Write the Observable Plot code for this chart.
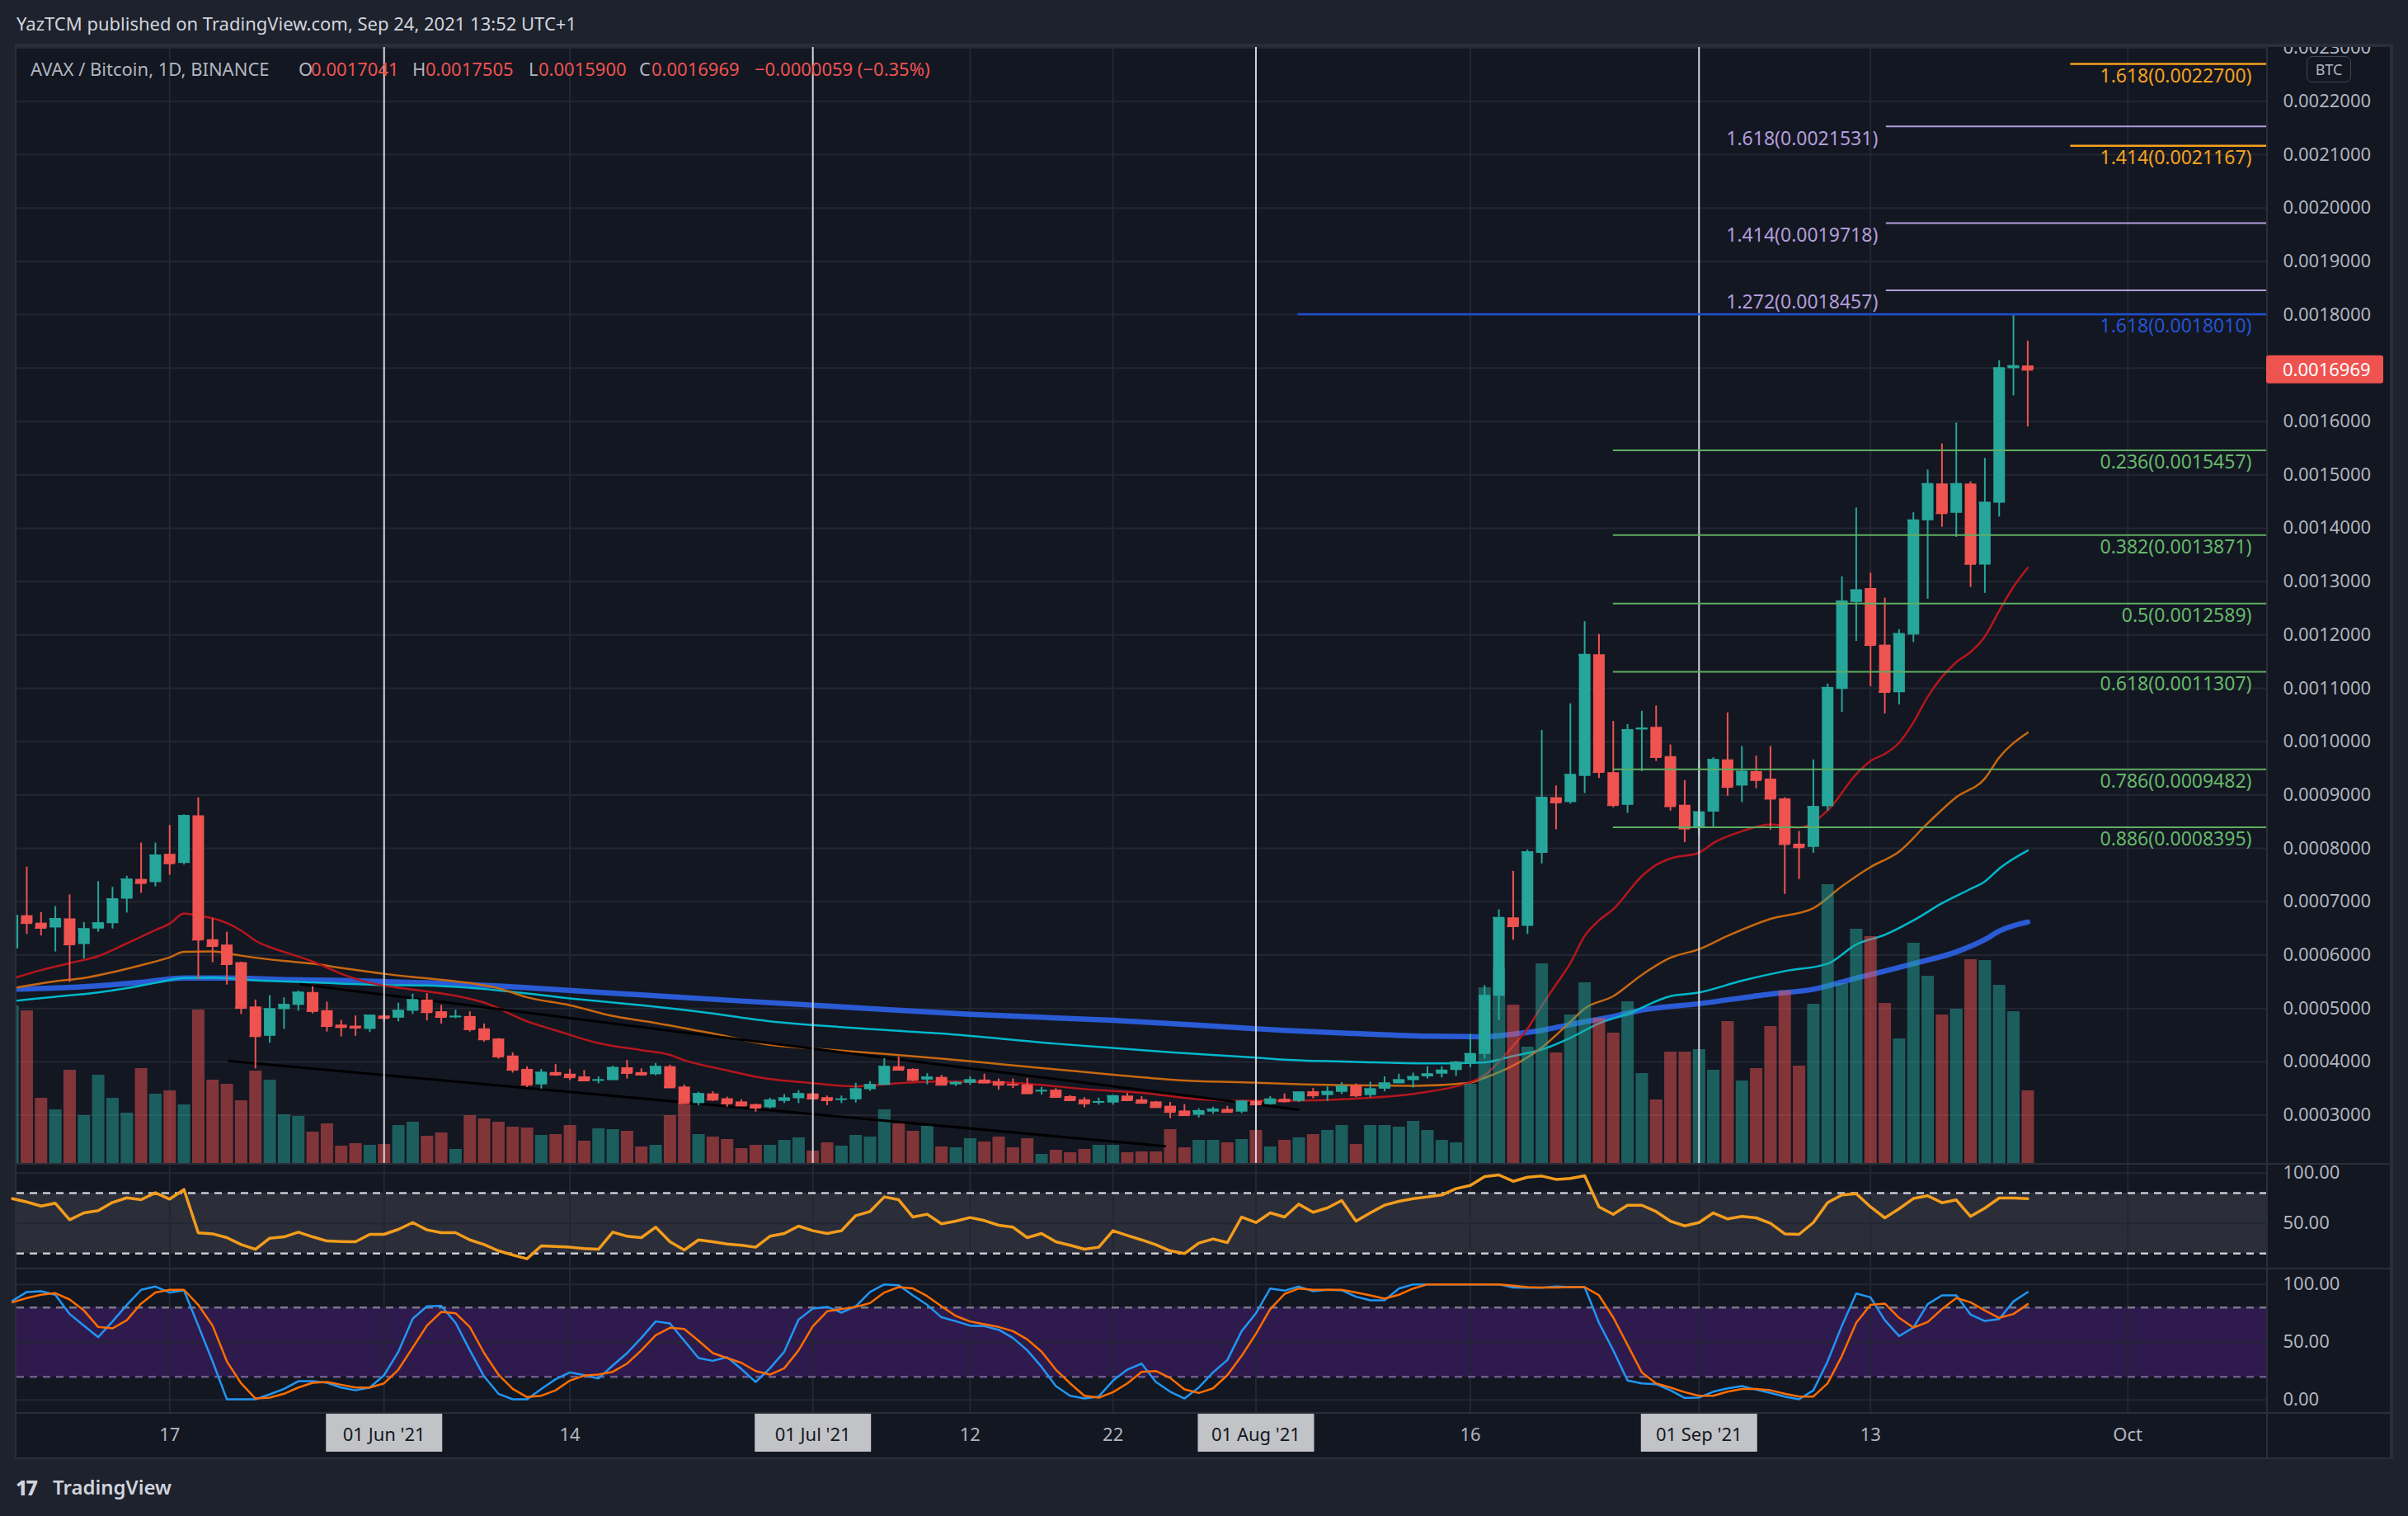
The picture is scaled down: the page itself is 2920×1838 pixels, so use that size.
<!DOCTYPE html>
<html>
<head>
<meta charset="utf-8">
<script src="https://cdn.jsdelivr.net/npm/d3@7"></script>
<script src="https://cdn.jsdelivr.net/npm/@observablehq/plot@0.6"></script>
<style>
html, body { margin:0; padding:0; background:#1e222d; }
#root { position:relative; width:2920px; height:1838px; overflow:hidden; font-family:"Noto Sans","DejaVu Sans",sans-serif; }
.abs { position:absolute; white-space:pre; }
</style>
</head>
<body>
<div id="root"></div>
<script>
// ---------------- DATA (daily candles, 2021-05-06 .. 2021-09-24) ----------------
const firstDay = "2021-05-06";
const open = [
  .000612,.000674,.000660,.000651,.000668,.000620,.000649,.000659,.000705,.000742,.000736,.000789,.000772,.000861,.000629,.000619,.000586,.000503,.000448,.000498,.000506,.000530,.000496,.000469,.000467,.000461,
  .000486,.000482,.000495,.000516,.000494,.000483,.000485,.000462,.000443,.000411,.000386,.000357,.000380,.000377,.000372,.000365,.000365,.000389,.000380,.000376,.000391,.000353,.000322,.000340,.000331,.000325,.000320,.000314,.000326,.000331,
  .000340,.000333,.000329,.000329,.000348,.000356,.000391,.000386,.000366,.000371,.000357,.000360,.000366,.000363,.000358,.000357,.000345,.000347,.000335,.000329,.000323,.000323,.000336,.000329,.000325,.000317,.000308,.000300,.000306,.000311,.000306,
  .000326,.000320,.000330,.000326,.000344,.000337,.000343,.000355,.000337,.000349,.000359,.000365,.000372,.000377,.000384,.000396,.000414,.000523,.000670,.000654,.000791,.000895,.000886,.000935,.001163,.000942,.000881,.001022,.001027,.000972,.000881,
  .000837,.000868,.000966,.000917,.000944,.000930,.000893,.000808,.000802,.000878,.001098,.001261,.001287,.001181,.001092,.001200,.001414,.001483,.001428,.001483,.001331,.001447,.001699,.0017041
];
const high = [
  .000680,.000765,.000680,.000691,.000713,.000661,.000738,.000727,.000748,.000810,.000810,.000843,.000863,.000895,.000668,.000643,.000587,.000516,.000524,.000520,.000533,.000541,.000512,.000478,.000486,.000487,
  .000495,.000510,.000527,.000528,.000506,.000497,.000494,.000471,.000444,.000417,.000391,.000386,.000395,.000386,.000384,.000372,.000392,.000403,.000387,.000397,.000394,.000357,.000343,.000344,.000334,.000329,.000321,.000332,.000339,.000346,
  .000343,.000336,.000336,.000360,.000363,.000406,.000409,.000387,.000378,.000375,.000363,.000372,.000377,.000368,.000368,.000369,.000352,.000350,.000337,.000333,.000332,.000337,.000341,.000335,.000326,.000324,.000320,.000312,.000315,.000317,.000326,
  .000337,.000335,.000340,.000343,.000350,.000353,.000361,.000359,.000362,.000372,.000377,.000379,.000391,.000391,.000401,.000452,.000543,.000685,.000757,.000797,.001021,.000917,.001071,.001225,.001201,.001038,.001032,.001057,.001067,.000994,.000927,
  .000963,.000970,.001054,.000991,.000973,.000991,.000895,.000832,.000966,.001108,.001309,.001438,.001316,.001269,.001210,.001429,.001509,.001558,.001597,.001487,.001531,.001714,.001801,.0017505
];
const low = [
  .000605,.000639,.000636,.000606,.000549,.000593,.000643,.000649,.000679,.000716,.000728,.000750,.000769,.000554,.000586,.000544,.000489,.000387,.000435,.000461,.000495,.000490,.000456,.000447,.000448,.000455,
  .000475,.000475,.000489,.000477,.000471,.000481,.000456,.000437,.000405,.000379,.000352,.000349,.000373,.000365,.000365,.000359,.000365,.000368,.000374,.000374,.000351,.000322,.000318,.000326,.000315,.000317,.000306,.000312,.000322,.000322,
  .000329,.000318,.000322,.000323,.000345,.000356,.000384,.000363,.000357,.000356,.000354,.000356,.000360,.000347,.000350,.000341,.000338,.000334,.000326,.000314,.000319,.000319,.000326,.000322,.000315,.000294,.000300,.000295,.000302,.000305,.000303,
  .000317,.000319,.000323,.000324,.000331,.000326,.000339,.000333,.000333,.000344,.000359,.000351,.000368,.000370,.000373,.000389,.000405,.000478,.000628,.000639,.000771,.000835,.000883,.000903,.000931,.000876,.000866,.000944,.000963,.000870,.000811,
  .000823,.000840,.000898,.000886,.000912,.000834,.000714,.000742,.000791,.000870,.001055,.001188,.001103,.001052,.001069,.001186,.001267,.001402,.001383,.001289,.001278,.001421,.001648,.0015900
];
const close = [
  .000674,.000660,.000651,.000668,.000620,.000649,.000660,.000705,.000742,.000735,.000787,.000772,.000861,.000629,.000617,.000583,.000501,.000448,.000499,.000507,.000530,.000495,.000467,.000465,.000464,.000487,
  .000482,.000496,.000516,.000493,.000484,.000485,.000461,.000442,.000410,.000385,.000357,.000380,.000376,.000371,.000365,.000366,.000389,.000379,.000376,.000391,.000352,.000323,.000340,.000329,.000322,.000318,.000314,.000328,.000332,.000340,
  .000331,.000328,.000330,.000349,.000357,.000391,.000385,.000366,.000371,.000357,.000361,.000366,.000361,.000357,.000357,.000341,.000346,.000334,.000328,.000322,.000325,.000336,.000328,.000323,.000315,.000306,.000300,.000308,.000311,.000306,.000326,
  .000320,.000330,.000326,.000343,.000337,.000344,.000354,.000337,.000349,.000360,.000366,.000372,.000377,.000384,.000399,.000415,.000524,.000670,.000654,.000793,.000895,.000886,.000938,.001163,.000943,.000881,.001022,.001025,.000971,.000879,.000837,
  .000868,.000966,.000915,.000944,.000928,.000893,.000808,.000802,.000878,.001101,.001263,.001284,.001181,.001093,.001202,.001415,.001483,.001428,.001483,.001333,.001448,.001700,.001704,.0016969
];
const volume = [
  191,185,79,65,113,58,107,79,61,115,84,88,71,186,101,96,76,112,101,59,57,38,48,21,24,22,
  23,46,50,33,37,17,58,54,50,44,43,34,35,46,27,42,41,39,20,22,58,72,35,32,29,18,22,22,28,31,
  15,25,21,34,32,65,48,39,45,20,19,30,26,32,19,30,11,16,13,17,22,22,13,14,14,41,19,28,28,25,29,
  40,20,28,31,35,40,46,23,46,46,44,51,40,28,25,96,213,237,192,141,242,134,180,219,176,158,196,109,77,135,135,
  138,113,172,100,115,166,209,118,193,338,218,284,275,194,151,267,227,180,187,247,246,216,184,88
];
// RSI (daily)
const rsi = [
  74.6,71.3,67.2,70,53.6,60.4,62.6,70.8,75.4,73.5,80.4,74.1,83.6,40.5,39.6,35.8,29,24.3,35.3,36.6,41.3,36.6,32.5,32,31.7,39.1,
  39.1,44,50.8,43.5,40.7,40.7,33.6,29,22.7,18.6,14.8,27.6,27.1,26.3,24.9,24.3,41.3,37.2,35.8,46.2,31.7,23.5,33.6,31.7,29.5,28.2,26.3,37.2,39.9,47.3,
  42.7,39.9,42.7,57.7,61.8,76.3,73.5,56.3,59.1,49.5,52.2,55.8,52.8,48.1,46.2,35.8,39.9,31.7,28.2,24.4,26.3,42.7,38,33.6,28.7,22.7,20,30.4,34.5,30.9,56.3,
  50.8,60.4,56.3,69.1,61,65.3,72.7,52.2,60.4,68.1,71.9,74.6,76.3,78.2,84.5,87.7,96.5,98.1,91.8,95.9,97,93.7,94.6,97.3,66.4,59,68,68,61.7,52.2,47.5,
  50.8,60.4,54.4,56.9,55.5,50,39.6,39.1,50.8,70.7,78.2,79.5,66.4,55.5,64.5,74.7,77.4,70.5,73.3,56.9,65.1,75.2,75.2,74.6
];
// Stoch RSI %K and %D (daily)
const stochK = [
  85.7,93.4,94.1,91,74.3,64.3,54.3,67.9,82.2,95.3,98.1,92.9,94.8,64.3,33.3,0.5,0.5,0.5,4.8,9.5,16.2,16.2,14.8,10.7,8.3,10.7,
  21.4,41.7,70.2,81,81.4,66.7,42.9,20.3,5.3,0.5,0.5,9.5,17.9,23.8,21.4,18.6,29.8,40.5,53.6,67.9,66.2,51.2,36.2,33.8,36.9,26.7,15.5,27.4,41.7,69.5,
  79,80.5,75.5,81,93.4,100,99.3,90.5,82.2,71.5,68.1,64.3,63.8,60.7,53.6,42.9,28.6,11.9,3.6,1.2,2.9,16.7,26.2,31.4,15.5,7.1,1.2,10.7,23.8,34.5,59.5,
  75,96.4,94.5,98.1,94,95.3,94.8,89.3,86.2,86.2,96.4,100,100,100,100,100,100,100,97.2,97,97,98.1,97.6,97.6,66.7,42.9,16.7,14.3,13.6,8.3,1.7,
  2,7.1,10,11.9,8.8,6,2.9,0.5,8.3,33.3,64.3,92.1,88.8,69,55.2,62.6,82.9,90.5,90.5,73.8,68.3,70,85.2,93.3
];
const stochD = [
  84.5,88.1,91,92.4,86.9,77.4,63.1,61.9,69,83.4,92.9,95.3,95.3,82.2,64.3,33.3,14.3,1.2,1.9,5.3,10.7,14.8,15.5,13.1,10.7,10.7,
  14.3,26.2,45.2,64.3,76.2,75,63.1,40.5,21.9,9.5,2.4,3.6,8.3,16.7,21,21.9,24.3,31.4,42.9,56,62.4,61.4,51.2,40.5,36.2,32.1,25,21.9,27.4,42.9,
  63.8,76.7,78.6,80.5,83.8,92.9,97.6,96.5,89.8,81,72.6,67.9,65.5,63.1,59.5,52.4,41.7,26.2,14.3,3.6,1.9,6.7,14.3,24.3,25,19,9.1,6,10,21.4,38.1,
  57.2,78.6,91.7,96.4,95.3,95.3,95.3,92.9,90.5,87.6,91,96.4,100,100,100,100,100,100,98.8,97.6,97.2,97.2,97.6,97.6,90.5,71.4,47.6,23.8,14.3,10.7,6.7,
  3.6,3.6,7.1,9.5,9.5,8.3,5.3,2.9,2.9,14.3,38.1,66.7,82.2,83.4,71,62.6,67.4,78.6,88.1,84.5,77.4,71,74.3,82.9
];
// Moving averages (date, value)
const maRed = [["2021-05-06",.000556],["2021-05-08",.000572],["2021-05-10",.000585],["2021-05-12",.000598],["2021-05-14",.000622],["2021-05-16",.000647],["2021-05-17",.000659],["2021-05-18",.000678],["2021-05-19",.000674],["2021-05-20",.000669],["2021-05-21",.000660],["2021-05-22",.000646],["2021-05-23",.000627],["2021-05-24",.000615],["2021-05-25",.000606],["2021-05-27",.000588],["2021-05-29",.000565],["2021-05-31",.000548],["2021-06-02",.000539],["2021-06-04",.000532],["2021-06-06",.000524],["2021-06-08",.000511],["2021-06-11",.000476],["2021-06-13",.000459],["2021-06-16",.000435],["2021-06-19",.000422],["2021-06-21",.000413],["2021-06-22",.000403],["2021-06-25",.000384],["2021-06-27",.000372],["2021-07-01",.000360],["2021-07-04",.000354],["2021-07-07",.000360],["2021-07-10",.000363],["2021-07-14",.000362],["2021-07-16",.000359],["2021-07-20",.000349],["2021-07-24",.000342],["2021-07-28",.000330],["2021-07-31",.000327],["2021-08-03",.000327],["2021-08-08",.000331],["2021-08-12",.000340],["2021-08-15",.000354],["2021-08-16",.000362],["2021-08-17",.000375],["2021-08-18",.000400],["2021-08-19",.000430],["2021-08-20",.000462],["2021-08-21",.000505],["2021-08-22",.000545],["2021-08-23",.000585],["2021-08-24",.000636],["2021-08-25",.000665],["2021-08-26",.000686],["2021-08-28",.000748],["2021-08-29",.000769],["2021-08-30",.000781],["2021-09-01",.000792],["2021-09-02",.000810],["2021-09-04",.000832],["2021-09-06",.000845],["2021-09-08",.000839],["2021-09-10",.000871],["2021-09-12",.000939],["2021-09-13",.000964],["2021-09-14",.000977],["2021-09-15",.000998],["2021-09-16",.001036],["2021-09-17",.001084],["2021-09-19",.001149],["2021-09-20",.001168],["2021-09-21",.001197],["2021-09-22",.001245],["2021-09-23",.001290],["2021-09-24",.001326]];
const maOrange = [["2021-05-06",.000538],["2021-05-09",.000551],["2021-05-11",.000557],["2021-05-13",.000568],["2021-05-15",.000581],["2021-05-17",.000596],["2021-05-18",.000606],["2021-05-20",.000607],["2021-05-22",.000599],["2021-05-25",.000589],["2021-05-27",.000584],["2021-05-29",.000576],["2021-06-01",.000565],["2021-06-03",.000559],["2021-06-06",.000551],["2021-06-09",.000538],["2021-06-11",.000521],["2021-06-14",.000506],["2021-06-17",.000486],["2021-06-20",.000473],["2021-06-24",.000453],["2021-06-28",.000432],["2021-07-01",.000425],["2021-07-03",.000421],["2021-07-06",.000415],["2021-07-10",.000406],["2021-07-14",.000396],["2021-07-18",.000386],["2021-07-22",.000376],["2021-07-27",.000365],["2021-08-01",.000361],["2021-08-04",.000358],["2021-08-08",.000356],["2021-08-12",.000355],["2021-08-16",.000361],["2021-08-17",.000370],["2021-08-19",.000393],["2021-08-21",.000427],["2021-08-23",.000475],["2021-08-24",.000500],["2021-08-26",.000523],["2021-08-28",.000563],["2021-08-30",.000595],["2021-09-01",.000611],["2021-09-03",.000636],["2021-09-06",.000668],["2021-09-09",.000688],["2021-09-11",.000729],["2021-09-13",.000765],["2021-09-15",.000794],["2021-09-17",.000847],["2021-09-19",.000896],["2021-09-21",.000931],["2021-09-22",.000970],["2021-09-24",.001017]];
const maTeal = [["2021-05-06",.000514],["2021-05-09",.000522],["2021-05-12",.000530],["2021-05-14",.000538],["2021-05-16",.000548],["2021-05-18",.000557],["2021-05-20",.000558],["2021-05-23",.000553],["2021-05-27",.000549],["2021-06-01",.000544],["2021-06-04",.000543],["2021-06-09",.000534],["2021-06-14",.000519],["2021-06-19",.000506],["2021-06-23",.000494],["2021-06-28",.000476],["2021-07-03",.000465],["2021-07-10",.000453],["2021-07-18",.000434],["2021-07-26",.000418],["2021-08-01",.000408],["2021-08-03",.000404],["2021-08-08",.000400],["2021-08-13",.000397],["2021-08-17",.000399],["2021-08-19",.000411],["2021-08-21",.000423],["2021-08-23",.000445],["2021-08-25",.000472],["2021-08-27",.000490],["2021-08-30",.000523],["2021-09-01",.000530],["2021-09-04",.000552],["2021-09-07",.000570],["2021-09-10",.000584],["2021-09-12",.000620],["2021-09-14",.000638],["2021-09-16",.000665],["2021-09-18",.000697],["2021-09-20",.000724],["2021-09-21",.000738],["2021-09-22",.000762],["2021-09-24",.000796]];
const maBlue = [["2021-05-06",.000536],["2021-05-11",.000541],["2021-05-15",.000549],["2021-05-18",.000557],["2021-05-21",.000557],["2021-05-25",.000554],["2021-05-30",.000552],["2021-06-04",.000548],["2021-06-11",.000539],["2021-06-18",.000527],["2021-06-26",.000514],["2021-07-03",.000503],["2021-07-12",.000489],["2021-07-22",.000478],["2021-08-01",.000462],["2021-08-03",.000459],["2021-08-08",.000453],["2021-08-13",.000448],["2021-08-17",.000447],["2021-08-19",.000452],["2021-08-21",.000459],["2021-08-23",.000470],["2021-08-26",.000485],["2021-08-28",.000497],["2021-09-01",.000509],["2021-09-06",.000527],["2021-09-09",.000536],["2021-09-12",.000557],["2021-09-14",.000570],["2021-09-16",.000584],["2021-09-19",.000606],["2021-09-21",.000629],["2021-09-22",.000645],["2021-09-24",.000662]];
// drawn trend lines
const trendFrom = ["2021-05-26T02:24:00Z", "2021-05-21T02:24:00Z"];
const trendTo = ["2021-08-04T00:30:00Z", "2021-07-25T16:48:00Z"];
const trendP1 = [0.0005456, 0.0004019];
const trendP2 = [0.0003102, 0.0002417];
// Fibonacci drawings
const fibGreenLevels = [0.236, 0.382, 0.5, 0.618, 0.786, 0.886];
const fibGreenPrices = [0.0015457, 0.0013871, 0.0012589, 0.0011307, 0.0009482, 0.0008395];
const fibGreenStart = "2021-08-26T00:00:00Z";
const fibPurpleLevels = [1.272, 1.414, 1.618];
const fibPurplePrices = [0.0018457, 0.0019718, 0.0021531];
const fibPurpleStart = "2021-09-14T02:24:00Z";
const fibOrangeLevels = [1.414, 1.618];
const fibOrangePrices = [0.0021167, 0.0022700];
const fibOrangeStart = "2021-09-27T00:00:00Z";
const fibBlueLevels = [1.618];
const fibBluePrices = [0.0018010];
const fibBlueStart = "2021-08-03T22:30:00Z";
// vertical drawn lines and time axis
const drawnLineDates = ["2021-06-01", "2021-07-01", "2021-08-01", "2021-09-01"];
const tickDates = ["2021-05-17","2021-06-01","2021-06-14","2021-07-01","2021-07-12","2021-07-22","2021-08-01","2021-08-16","2021-09-01","2021-09-13","2021-10-01"];
const tickLabels = ["17","01 Jun '21","14","01 Jul '21","12","22","01 Aug '21","16","01 Sep '21","13","Oct"];
const priceTicks = [0.0003,0.0004,0.0005,0.0006,0.0007,0.0008,0.0009,0.0010,0.0011,0.0012,0.0013,0.0014,0.0015,0.0016,0.0017,0.0018,0.0019,0.0020,0.0021,0.0022,0.0023];

// ---------------- RENDER ----------------
const root = document.getElementById("root");
const FONT = '"Noto Sans","DejaVu Sans",sans-serif';
const UP = "#26a69a", DOWN = "#ef5350", GRID = "#232732", AXT = "#b2b5be";
const DAY = 864e5;
const t0 = new Date(firstDay + "T00:00:00Z").getTime();
const dayDate = i => new Date(t0 + i * DAY);
const toDate = s => new Date(s.length === 10 ? s + "T00:00:00Z" : s);
const jun1 = Date.UTC(2021, 5, 1);
const xDomain = [new Date(jun1 - 25.69 * DAY), new Date(jun1 + 131.71 * DAY)];
const xEnd = () => xDomain[1];
const halfBody = 0.4 * DAY;

const candles = open.map((o, i) => ({date: dayDate(i), open: o, high: high[i], low: low[i], close: close[i], volume: volume[i]}));
const isUp = d => d.close >= d.open;
const isDown = d => d.close < d.open;
const ticks = tickDates.map((s, i) => ({date: toDate(s), label: tickLabels[i], boxed: drawnLineDates.includes(s)}));
const tickDateObjs = ticks.map(d => d.date);
const drawnDates = drawnLineDates.map(toDate);
const maRows = a => a.map(([s, v]) => ({date: toDate(s), v}));
const trends = trendFrom.map((s, i) => ({a: toDate(s), b: toDate(trendTo[i]), p1: trendP1[i], p2: trendP2[i]}));
const fibRows = (levels, prices, start) => levels.map((l, i) => ({level: l, price: prices[i], start: toDate(start)}));
const fibGreen = fibRows(fibGreenLevels, fibGreenPrices, fibGreenStart);
const fibPurple = fibRows(fibPurpleLevels, fibPurplePrices, fibPurpleStart);
const fibOrange = fibRows(fibOrangeLevels, fibOrangePrices, fibOrangeStart);
const fibBlue = fibRows(fibBlueLevels, fibBluePrices, fibBlueStart);
const fibText = d => `${d.level}(${d.price.toFixed(7)})`;
const osc = arr => arr.map((v, i) => ({date: dayDate(i), v}));

function box(left, top, w, h, bg) {
  const e = document.createElement("div");
  e.className = "abs";
  Object.assign(e.style, {left: left + "px", top: top + "px", width: w + "px", height: h + "px", background: bg});
  root.appendChild(e);
  return e;
}
function label(left, top, text, color, size, extra) {
  const e = document.createElement("div");
  e.className = "abs";
  e.textContent = text;
  Object.assign(e.style, {left: left + "px", top: top + "px", color, fontSize: size + "px", lineHeight: "1", fontFamily: FONT}, extra || {});
  root.appendChild(e);
  return e;
}

// frame & panes
box(18, 53, 2884, 1716, "#2a2e39");
[[57, 1353], [1412, 125], [1539, 173], [1714, 53]].forEach(([t, h]) => {
  box(20, t, 2728, h, "#131722");
  box(2750, t, 148, h, "#131722");
});

function pane(top, height, yOpts, marks, overflow) {
  const svg = Plot.plot({
    width: 2880, height,
    marginLeft: 0, marginRight: 152, marginTop: 0, marginBottom: 0,
    style: {background: "transparent", color: AXT, fontFamily: FONT, fontSize: "22px", overflow: overflow || "hidden"},
    x: {type: "utc", domain: xDomain, axis: null},
    y: yOpts,
    marks
  });
  svg.style.position = "absolute";
  svg.style.left = "20px";
  svg.style.top = top + "px";
  root.appendChild(svg);
  return svg;
}

const priceDomain = [0.0002097, 0.0023009];
const MAIN_TOP = 57, MAIN_H = 1353;

// layer 1: grid + moving averages
pane(MAIN_TOP, MAIN_H, {domain: priceDomain, axis: null}, [
  Plot.ruleY(priceTicks, {stroke: GRID, strokeWidth: 2}),
  Plot.ruleX(tickDateObjs, {stroke: GRID, strokeWidth: 2}),
  Plot.line(maRows(maBlue), {x: "date", y: "v", stroke: "#2a5bd4", strokeWidth: 6.5, curve: "monotone-x"}),
  Plot.line(maRows(maTeal), {x: "date", y: "v", stroke: "#00b8cc", strokeWidth: 2.5, curve: "monotone-x"}),
  Plot.line(maRows(maOrange), {x: "date", y: "v", stroke: "#c8680f", strokeWidth: 2.5, curve: "monotone-x"}),
  Plot.line(maRows(maRed), {x: "date", y: "v", stroke: "#b5161c", strokeWidth: 2.5, curve: "monotone-x"})
]);

// layer 2: volume
pane(MAIN_TOP, MAIN_H, {domain: [0, MAIN_H], axis: null}, [
  Plot.ruleX(candles, {filter: isUp, x: "date", y1: 0, y2: "volume", stroke: UP, strokeOpacity: 0.5, strokeWidth: 15}),
  Plot.ruleX(candles, {filter: isDown, x: "date", y1: 0, y2: "volume", stroke: DOWN, strokeOpacity: 0.5, strokeWidth: 15})
]);

// layer 3: candles, drawings, axis
const main = pane(MAIN_TOP, MAIN_H, {domain: priceDomain, axis: "right", ticks: priceTicks, tickFormat: d3.format(".7f"), tickSize: 0, tickPadding: 20, label: null}, [
  Plot.link(trends, {x1: "a", y1: "p1", x2: "b", y2: "p2", stroke: "#000000", strokeWidth: 3}),
  Plot.ruleX(candles, {filter: isUp, x: "date", y1: "low", y2: "high", stroke: UP, strokeWidth: 2}),
  Plot.ruleX(candles, {filter: isDown, x: "date", y1: "low", y2: "high", stroke: DOWN, strokeWidth: 2}),
  Plot.ruleX(candles, {filter: isUp, x: "date", y1: "open", y2: "close", stroke: UP, strokeWidth: 14}),
  Plot.ruleX(candles, {filter: isDown, x: "date", y1: "open", y2: "close", stroke: DOWN, strokeWidth: 14}),
  Plot.ruleY(candles, {filter: isUp, y: "close", x1: d => new Date(+d.date - halfBody), x2: d => new Date(+d.date + halfBody), stroke: UP, strokeWidth: 2}),
  Plot.ruleY(candles, {filter: isDown, y: "close", x1: d => new Date(+d.date - halfBody), x2: d => new Date(+d.date + halfBody), stroke: DOWN, strokeWidth: 2}),
  Plot.ruleX(drawnDates, {stroke: "#d1d4dc", strokeWidth: 2}),
  Plot.ruleY(fibGreen, {y: "price", x1: "start", x2: xEnd, stroke: "#5fae62", strokeWidth: 2}),
  Plot.ruleY(fibPurple, {y: "price", x1: "start", x2: xEnd, stroke: "#b39ddb", strokeWidth: 2}),
  Plot.ruleY(fibOrange, {y: "price", x1: "start", x2: xEnd, stroke: "#f5a11e", strokeWidth: 2.5}),
  Plot.ruleY(fibBlue, {y: "price", x1: "start", x2: xEnd, stroke: "#1f4fd3", strokeWidth: 2.5}),
  Plot.text(fibGreen, {x: xEnd, y: "price", text: fibText, textAnchor: "end", dx: -18, dy: 15, fill: "#66b96a", fontSize: 23}),
  Plot.text(fibOrange, {x: xEnd, y: "price", text: fibText, textAnchor: "end", dx: -18, dy: 15, fill: "#f5a11e", fontSize: 23}),
  Plot.text(fibBlue, {x: xEnd, y: "price", text: fibText, textAnchor: "end", dx: -18, dy: 15, fill: "#2453d6", fontSize: 23}),
  Plot.text(fibPurple, {x: "start", y: "price", text: fibText, textAnchor: "end", dx: -10, dy: 15, fill: "#b39ddb", fontSize: 23})
]);

// last price tag on the right axis (same linear mapping as the price scale)
const lastClose = close[close.length - 1];
const yMap = d3.scaleLinear(priceDomain, [MAIN_H, 0]);
const yl = yMap(lastClose);
const sel = d3.select(main);
sel.append("rect").attr("x", 2728).attr("y", yl - 17).attr("width", 142).attr("height", 34).attr("rx", 3).attr("fill", DOWN);
sel.append("text").attr("x", 2748).attr("y", yl).attr("dy", "0.36em").attr("text-anchor", "start").attr("fill", "#ffffff")
  .attr("font-size", 22).attr("font-family", FONT).text(d3.format(".7f")(lastClose));

// BTC unit badge
label(2797, 68, "BTC", AXT, 18, {width: "52px", height: "30px", lineHeight: "30px", textAlign: "center",
  border: "1.5px solid #434651", borderRadius: "7px", background: "#131722"});

// RSI pane
pane(1412, 125, {domain: [5.5, 107.95], axis: "right", ticks: [100, 50], tickFormat: d3.format(".2f"), tickSize: 0, tickPadding: 20, label: null}, [
  Plot.rect([0], {x1: () => xDomain[0], x2: xEnd, y1: 20, y2: 80, fill: "#2b2e39"}),
  Plot.ruleY([50, 100], {stroke: GRID, strokeWidth: 2}),
  Plot.ruleX(tickDateObjs, {stroke: GRID, strokeWidth: 2}),
  Plot.ruleY([80, 20], {stroke: "#c9cbd1", strokeWidth: 2.5, strokeDasharray: "9,7"}),
  Plot.line(osc(rsi), {x: "date", y: "v", stroke: "#f39c1c", strokeWidth: 3.5})
], "visible");

// Stoch RSI pane
pane(1539, 173, {domain: [-10.9, 112.6], axis: "right", ticks: [100, 50, 0], tickFormat: d3.format(".2f"), tickSize: 0, tickPadding: 20, label: null}, [
  Plot.rect([0], {x1: () => xDomain[0], x2: xEnd, y1: 20, y2: 80, fill: "#2f1a4e"}),
  Plot.ruleY([0, 50, 100], {stroke: GRID, strokeWidth: 2}),
  Plot.ruleX(tickDateObjs, {stroke: GRID, strokeWidth: 2}),
  Plot.ruleY([80], {stroke: "#787b86", strokeWidth: 2.5, strokeDasharray: "9,7"}),
  Plot.ruleY([20], {stroke: "#6e5a8e", strokeWidth: 2.5, strokeDasharray: "9,7"}),
  Plot.line(osc(stochK), {x: "date", y: "v", stroke: "#2196f3", strokeWidth: 2.5}),
  Plot.line(osc(stochD), {x: "date", y: "v", stroke: "#ff6d00", strokeWidth: 2.5})
], "visible");

// time axis pane
pane(1714, 53, {axis: null}, [
  Plot.ruleX(ticks, {filter: d => d.boxed, x: "date", stroke: "#c2c3c7", strokeWidth: 141, insetBottom: 7}),
  Plot.text(ticks, {filter: d => d.boxed, x: "date", text: "label", frameAnchor: "middle", dy: -1, fill: "#131722", fontSize: 22}),
  Plot.text(ticks, {filter: d => !d.boxed, x: "date", text: "label", frameAnchor: "middle", dy: -1, fill: AXT, fontSize: 22})
]);

// header & legend
label(20, 17, "YazTCM published on TradingView.com, Sep 24, 2021 13:52 UTC+1", "#d1d4dc", 22);
const legendY = 72;
label(37, legendY, "AVAX / Bitcoin, 1D, BINANCE", AXT, 22);
[["O", 362, "0.0017041", 377], ["H", 500, "0.0017505", 516], ["L", 641, "0.0015900", 653], ["C", 775, "0.0016969", 790]].forEach(([k, kx, v, vx]) => {
  label(kx, legendY, k, AXT, 22);
  label(vx, legendY, v, DOWN, 22);
});
label(915, legendY, "\u22120.0000059 (\u22120.35%)", DOWN, 22);

// footer logo
label(19, 1791, "17", "#d1d4dc", 25, {fontWeight: "800", letterSpacing: "-2px"});
label(64, 1791, "TradingView", "#d1d4dc", 24, {fontWeight: "600"});
</script>
</body>
</html>
